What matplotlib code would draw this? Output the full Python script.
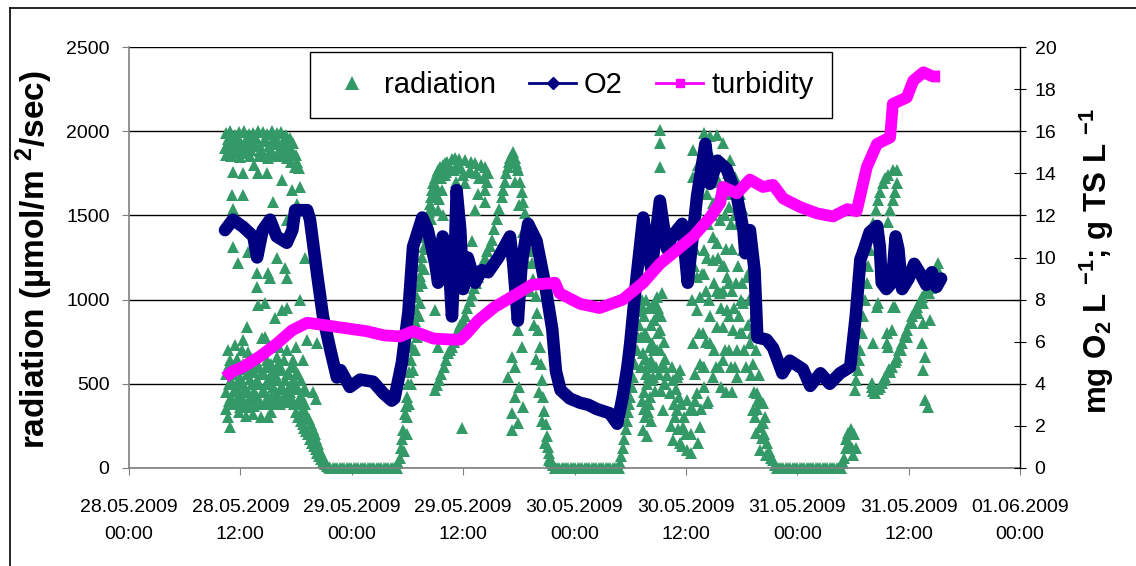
import matplotlib
matplotlib.use('Agg')
import matplotlib.pyplot as plt
import matplotlib.dates as mdates
from matplotlib.lines import Line2D
import numpy as np

plt.rcParams['font.family'] = ['Liberation Sans', 'DejaVu Sans']
plt.rcParams['mathtext.fontset'] = 'custom'
plt.rcParams['mathtext.rm'] = 'Liberation Sans'
plt.rcParams['mathtext.bf'] = 'Liberation Sans:bold'
plt.rcParams['mathtext.default'] = 'regular'

# ---------------- data (hours since 28.05.2009 00:00, value) ----------------
rad_day1 = [
    # top band
    (10.4,1990),(10.9,2000),(11.4,1980),(11.9,1995),(12.4,2000),(12.9,1985),(13.4,1990),(13.9,2000),
    (14.4,1995),(14.9,1985),(15.4,2000),(15.9,1990),(16.4,1995),(16.9,1980),(17.4,1960),
    (10.6,1920),(11.1,1940),(11.6,1910),(12.1,1930),(12.6,1900),(13.1,1935),(13.6,1920),(14.1,1910),
    (14.6,1940),(15.1,1915),(15.6,1925),(16.1,1935),(16.6,1910),(17.1,1900),(17.6,1880),(18.0,1860),
    (10.5,1860),(11.0,1850),(11.5,1870),(12.0,1845),(12.5,1870),(13.0,1850),(13.5,1800),(14.0,1855),
    (14.5,1860),(15.0,1840),(15.5,1860),(16.0,1850),(16.5,1855),(17.0,1840),(17.5,1820),(17.9,1790),(18.3,1780),
    (10.65,1955),(11.15,1890),(11.65,1960),(12.15,1885),(12.65,1950),(13.15,1890),(13.65,1960),
    (14.15,1885),(14.65,1955),(15.15,1880),(15.65,1960),(16.15,1890),(16.65,1950),(17.15,1870),
    (17.65,1930),(18.1,1820),(10.35,1900),
    # scattered values
    (11.2,1760),(12.3,1750),(13.9,1750),(14.9,1750),(16.5,1710),(17.6,1650),(18.4,1670),(11.1,1620),
    (12.3,1620),(15.5,1580),(11.2,1540),(18.1,1570),(17.0,1470),(11.2,1310),(11.7,1220),(12.8,1280),
    (13.8,1160),(13.8,1075),(15.0,1160),(15.2,1130),(15.9,1250),(16.8,1190),(17.0,1130),(19.0,1250),
    (13.9,970),(14.7,980),(16.5,940),(17.0,950),(18.4,1000),(15.7,890),(12.7,840),(12.3,760),
    (14.3,770),(11.4,730),(19.2,760),(20.3,740),(10.9,640),(12.2,700),(15.9,660),(17.0,700),
    (17.7,640),(18.7,640),(14.6,780),(12.8,690),(10.7,700),(11.6,650),(13.2,650),(14.9,640),
    (16.2,720),(18.0,720),
    # dense low cloud cover
    (10.5,560),(10.5,450),(10.5,350),(11.0,520),(11.0,420),(10.9,245),(11.5,580),(11.5,480),(11.5,380),
    (12.0,540),(12.0,440),(12.0,360),(12.5,590),(12.5,470),(12.5,380),(13.0,530),(13.0,420),
    (13.5,570),(13.5,460),(13.5,370),(14.0,600),(14.0,500),(14.0,400),(14.5,560),(14.5,460),(14.5,380),
    (15.0,520),(15.0,420),(15.0,305),(15.5,580),(15.5,480),(15.5,380),(16.0,620),(16.0,520),(16.0,420),
    (16.5,580),(16.5,480),(16.5,400),(17.0,560),(17.0,460),(17.0,390),(17.5,600),(17.5,500),(17.5,420),
    (18.0,560),(18.0,470),(18.5,520),(18.5,430),(19.0,470),(19.0,380),(19.8,450),(20.1,410),
    (10.8,500),(11.3,460),(11.8,520),(12.3,500),(12.8,450),(13.3,500),(13.8,520),(14.3,450),
    (14.8,500),(15.3,540),(15.8,450),(16.3,470),(16.8,520),(17.3,450),(17.8,520),(18.2,400),
    (18.8,460),(11.8,330),(12.6,310),(13.4,320),(14.2,300),(15.3,330),(10.7,300),
    (10.75,610),(11.25,560),(11.75,600),(12.25,620),(12.75,560),(13.25,580),(13.75,620),(14.25,560),
    (14.75,600),(15.25,620),(15.75,560),(16.25,600),(16.75,640),(17.25,560),(17.75,600),(18.25,560),
    (10.75,400),(11.25,380),(11.75,420),(12.25,400),(12.75,360),(13.25,400),(13.75,420),(14.25,380),
    (14.75,400),(15.25,420),(15.75,400),(16.25,380),(16.75,420),(17.25,400),(17.75,380),(18.25,470),
    # evening decline
    (18.0,330),(18.5,280),(18.9,240),(19.3,200),(19.7,150),(20.1,110),(20.5,70),(20.9,35),(21.3,10),
    (18.6,380),(19.0,330),(19.4,290),(19.8,230),(20.2,170),(20.6,100),(21.0,50),
    (18.25,300),(18.7,260),(19.1,220),(19.5,170),(19.9,130),(20.3,90),(20.7,55),(21.1,25),(21.5,5),
    (18.8,350),(19.2,310),(19.6,260),(20.0,200),(20.4,140),(20.8,75),
]
rad_night1 = [(21.7,0),(21.95,0),(22.2,0),(22.45,0),(22.7,0),(22.95,0),(23.2,0),(23.45,0),(23.7,0),
              (23.95,0),(24.2,0),(24.45,0),(24.7,0),(24.95,0),(25.2,0),(25.45,0),(25.7,0),(25.95,0),
              (26.2,0),(26.45,0),(26.7,0),(26.95,0),(27.2,0),(27.45,0),(27.7,0),(27.95,0),(28.2,0),
              (28.45,0),(28.7,0),(28.9,0)]
rad_day2 = [
    (29.0,30),(29.3,120),(29.5,225),(29.7,320),(29.9,420),(30.2,570),(30.5,720),(30.8,870),(31.0,1015),
    (31.3,1140),(31.6,1255),(31.9,1370),(32.1,1470),(32.4,1570),(32.6,1650),(33.0,1720),(33.3,1770),
    (33.8,1800),(34.3,1815),(34.8,1835),(35.1,1840),(35.6,1835),(36.2,1830),(36.8,1820),(37.3,1810),
    (37.9,1800),(38.4,1790),(38.7,1750),
    (29.6,100),(30.0,300),(30.4,500),(30.8,700),(31.2,900),(31.6,1100),(32.0,1300),(32.5,1480),
    (33.0,1620),(33.6,1720),(34.2,1760),(35.0,1770),(35.8,1780),(36.6,1760),(37.4,1750),(38.2,1730),
    (29.15,60),(29.45,170),(29.8,370),(30.1,500),(30.35,640),(30.65,800),(30.9,940),(31.15,1080),
    (31.45,1200),(31.75,1310),(32.0,1420),(32.3,1520),(32.5,1610),(32.8,1690),(33.15,1750),
    (33.55,1790),(34.0,1810),
    (29.9,200),(30.2,380),(30.6,580),(31.0,780),(31.4,980),(31.8,1180),(32.2,1360),(32.7,1540),
    (33.2,1660),
    (34.0,1740),(34.6,1790),(35.4,1800),(36.0,1740),(36.9,1760),(37.7,1720),(38.6,1700),(35.2,1700),
    (33.7,1650),(36.2,1690),(37.6,1630),(38.4,1650),(38.4,1580),(37.3,1530),(33.3,1530),(37.0,1350),
    (36.7,1250),(33.0,940),(33.3,720),(35.9,240),(33.4,1600),(33.8,1500),
    # second branch
    (33.0,465),(33.4,520),(33.9,600),(34.4,680),(34.8,720),(35.3,790),(35.7,850),(36.2,900),(36.7,990),
    (37.2,1070),(37.6,1135),(38.1,1210),(38.6,1290),(39.1,1355),(39.6,1480),(40.2,1610),(40.5,1700),
    (40.8,1790),(41.1,1840),(41.4,1875),
    (33.2,490),(33.65,560),(34.15,640),(34.6,700),(35.05,750),(35.5,820),(35.95,870),(36.45,950),
    (36.95,1030),(37.4,1100),(37.85,1170),(38.35,1250),(38.85,1320),(39.35,1420),(39.9,1540),
    (40.35,1650),(40.65,1750),(40.95,1815),(41.25,1860),
    (41.7,1810),(41.9,1770),(42.3,1640),(42.7,1515),(43.0,1370),(43.4,1215),(43.8,1020),(44.1,820),
    (44.4,620),(44.6,420),(44.9,260),(45.1,125),(45.4,60),(45.6,30),(45.9,0),
    (41.6,1700),(42.0,1560),(42.4,1400),(42.8,1230),(43.2,1050),(43.6,850),(43.9,650),(44.2,450),
    (44.5,280),(44.8,150),(45.2,50),
    (41.55,1840),(41.8,1790),(42.1,1700),(42.5,1580),(42.9,1440),(43.25,1290),(43.55,1120),
    (43.95,920),(44.25,720),(44.5,520),(44.75,340),(45.0,190),(45.3,90),(45.5,40),(45.7,15),
    (41.9,820),(42.3,720),(41.3,660),(40.8,540),(41.6,420),(41.3,325),(41.9,265),(41.3,225),(42.5,360),
    (41.6,600),(42.0,480),
]
rad_night2 = [(46.1,0),(46.35,0),(46.6,0),(46.85,0),(47.1,0),(47.35,0),(47.6,0),(47.85,0),(48.1,0),
              (48.35,0),(48.6,0),(48.85,0),(49.1,0),(49.35,0),(49.6,0),(49.85,0),(50.1,0),(50.35,0),
              (50.6,0),(50.85,0),(51.1,0),(51.35,0),(51.6,0),(51.85,0),(52.1,0),(52.35,0),(52.6,0),
              (52.8,0)]
rad_day3 = [
    (52.9,30),(53.2,120),(53.5,230),(53.8,330),(54.0,420),(54.3,540),(54.7,700),(55.0,850),(55.3,1000),
    (53.05,70),(53.35,170),(53.65,280),(53.9,380),(54.15,480),(54.5,620),(54.85,780),(55.15,930),
    (55.4,225),(55.4,680),(55.8,780),(56.9,1015),(56.9,900),(57.2,820),(56.5,540),(57.5,620),(56.1,420),
    (57.5,345),(55.6,800),(55.7,560),(55.5,450),(55.9,330),(56.2,640),(56.4,740),(56.6,880),(56.7,460),
    (56.0,540),(56.9,700),(57.1,560),(57.3,460),(55.6,300),(55.8,190),(56.3,960),
    (55.2,600),(55.5,900),(55.7,1000),(56.0,950),(56.2,850),(56.4,600),(56.6,700),(56.8,600),
    (57.0,800),(57.3,900),(57.6,750),(57.8,500),(55.3,400),(55.5,350),(55.9,620),(56.1,720),
    (56.3,520),(56.7,980),(57.4,1040),
    (55.2,780),(55.4,950),(55.6,650),(55.8,500),(56.0,380),(56.2,280),(56.4,950),(57.0,950),
    (57.2,700),(57.4,600),(57.6,500),(57.8,650),(58.0,550),
    (58.3,445),(59.0,540),(59.4,580),(59.0,345),(58.6,165),(60.1,105),(59.7,245),(60.4,345),(60.1,405),
    (58.5,600),(58.8,300),(59.3,420),(59.6,130),(58.4,250),(58.6,520),(58.9,470),(59.2,560),
    (59.5,380),(59.8,300),(60.0,200),(59.1,230),(58.7,380),(59.4,150),
    (57.2,2005),(57.2,1930),(57.2,1790),
    (60.8,740),(61.2,940),(61.5,1015),(61.2,1135),(61.9,1295),(61.2,1530),(60.8,1730),(60.8,1890),
    (61.9,1990),(62.6,1970),(63.3,1980),(64.0,1930),(64.8,1830),(65.3,1730),(65.8,1630),(66.2,1530),
    (66.6,1370),(66.2,1295),(66.6,1135),(66.2,980),(66.9,740),(65.5,700),(65.5,540),(67.2,620),
    (67.7,445),(67.2,345),(68.3,385),(68.0,245),(68.7,150),(69.4,50),(69.8,0),
    (63.3,1335),(62.9,1235),(63.7,1040),(62.6,900),(63.3,840),(64.4,940),(64.4,1135),(64.0,840),
    (62.6,740),(61.5,620),(61.2,445),(60.8,345),(61.5,245),(62.3,385),(62.9,540),(64.0,640),(65.1,820),
    (62.9,1370),(63.7,1470),(62.9,1575),(62.3,1630),(61.9,1790),(62.6,1870),(63.7,1830),(64.8,1630),
    (60.6,200),(60.5,90),(61.0,560),(61.8,800),(62.2,1050),(62.0,600),(63.0,700),(63.6,600),
    (63.9,1200),(64.2,1500),(64.6,1100),(65.0,1300),(64.7,700),(62.4,400),
    (61.0,1300),(61.4,1700),(61.6,1450),(62.0,1150),(62.4,1450),(62.7,1700),(63.0,1100),(63.4,1600),
    (63.5,1250),(64.0,1050),(64.3,1300),(64.6,1550),(65.0,1050),(65.3,1500),(65.6,1200),(65.9,1000),
    (66.0,800),(65.7,900),(65.3,600),(65.0,450),(64.3,450),(63.8,480),(61.6,350),(62.0,480),
    (61.3,150),
    (60.7,1000),(60.9,1200),(61.1,1600),(61.3,1800),(61.7,1150),(61.8,600),(62.1,1850),(62.3,1250),
    (62.5,1000),(62.8,1500),(63.1,1800),(63.2,600),(63.6,1700),(63.8,950),(64.1,1200),(64.5,1750),
    (64.7,900),(64.9,1450),(65.2,950),(65.4,1100),(65.6,1450),(65.8,800),(66.0,1100),(66.3,700),
    (61.4,800),(62.2,750),(63.4,1050),(64.2,700),(64.9,600),(61.0,400),
    (66.9,1175),(67.6,700),(67.8,405),(68.3,265),(67.6,210),(68.0,105),(66.7,850),(67.0,550),
    (67.3,900),(67.5,300),(67.9,550),(68.2,180),(68.5,300),(67.0,1000),(66.5,600),
    (66.8,1000),(67.1,800),(67.3,450),(67.7,350),(68.0,400),(68.4,200),(68.6,80),(69.0,100),
    (69.2,60),(69.6,20),
]
rad_night3 = [(70.0,0),(70.25,0),(70.5,0),(70.75,0),(71.0,0),(71.25,0),(71.5,0),(71.75,0),(72.0,0),
              (72.25,0),(72.5,0),(72.75,0),(73.0,0),(73.25,0),(73.5,0),(73.75,0),(74.0,0),(74.25,0),
              (74.5,0),(74.75,0),(75.0,0),(75.25,0),(75.5,0),(75.75,0),(76.0,0),(76.25,0),(76.5,0),
              (76.7,0)]
rad_day4 = [
    (76.9,30),(77.2,120),(77.5,205),(77.8,230),(78.1,200),(78.3,120),(78.0,80),
    (77.0,60),(77.3,170),(77.6,150),(77.9,120),
    (78.2,465),(78.5,580),(78.8,700),(79.1,900),(79.5,1100),(79.8,1295),(80.2,1455),(80.7,1590),
    (81.2,1690),(81.8,1740),(82.3,1770),(82.7,1770),(82.3,1590),(82.0,1530),(81.8,1460),(82.7,1690),
    (82.5,1640),
    (78.35,520),(78.65,640),(78.95,800),(79.3,1000),(79.65,1200),(80.0,1380),(80.45,1530),
    (80.95,1640),(81.5,1720),
    (80.4,445),(81.1,505),(81.5,540),(82.2,600),(82.7,660),(83.3,740),(83.8,820),(84.4,900),(84.9,955),
    (85.4,1015),(86.0,1060),(86.5,1100),(86.8,1135),(87.2,1175),(87.2,1215),
    (80.0,480),(80.7,470),(81.4,520),(82.0,570),(82.6,640),(83.2,700),(83.8,780),(84.4,860),(85.0,920),
    (85.6,980),(86.2,1040),(86.8,1090),
    (80.2,460),(80.9,480),(81.3,530),(81.9,590),(82.5,630),(83.0,700),(83.6,790),(84.1,860),
    (84.7,930),(85.2,990),(85.8,1040),(86.4,1070),(87.0,1150),
    (80.7,980),(82.5,955),(80.2,740),(81.7,740),(82.2,820),(81.8,720),(80.1,505),(85.5,860),(86.3,880),
    (85.4,740),(85.8,660),(85.5,580),(85.8,405),(86.1,360),(87.0,1100),(81.7,800),(82.3,955),(80.6,955),
]

o2_series = [
    (10.34,11.3),(11.2,11.8),(12.3,11.45),(13.4,11.0),(13.8,10.0),(14.4,11.3),(15.2,11.8),(15.9,11.0),
    (17.0,10.7),(17.6,11.3),(17.9,12.25),(19.2,12.25),(19.5,11.8),(20.3,9.1),(20.9,7.2),(21.7,5.6),
    (22.4,4.3),(22.8,4.65),(23.8,3.85),(24.9,4.2),(26.3,4.1),(27.4,3.55),(28.3,3.2),(28.6,3.3),
    (29.4,5.0),(30.1,7.4),(30.6,10.5),(31.6,11.9),(32.2,11.3),(33.0,9.7),(33.3,8.8),(33.8,11.0),
    (34.4,10.2),(34.8,7.2),(35.1,10.0),(35.3,13.2),(35.7,11.3),(36.0,8.5),(36.5,10.0),(37.3,8.8),
    (38.0,9.4),(38.7,9.3),(39.8,10.0),(41.05,11.0),(41.4,9.7),(41.9,7.0),(42.3,9.7),(43.0,11.6),
    (43.9,10.8),(44.8,8.8),(45.6,6.6),(46.0,4.6),(46.5,3.7),(47.5,3.3),(48.6,3.1),(49.5,3.0),
    (50.4,2.8),(51.8,2.6),(52.6,2.1),(53.2,3.4),(53.7,4.8),(54.0,5.9),(54.7,9.1),(55.4,11.9),
    (55.9,10.4),(56.3,9.4),(57.2,12.7),(57.97,10.4),(58.5,11.0),(59.6,11.6),(60.2,8.8),(61.2,12.9),
    (62.1,15.4),(62.6,13.5),(63.4,14.6),(64.4,14.2),(65.5,12.9),(66.2,11.3),(66.4,10.2),(66.9,11.3),
    (67.4,9.4),(67.7,6.2),(68.7,6.1),(69.4,5.7),(70.4,4.5),(71.2,5.1),(72.6,4.7),(73.4,3.9),
    (74.5,4.5),(75.5,4.0),(76.6,4.5),(77.7,4.8),(78.3,7.2),(78.8,9.9),(79.2,10.4),(79.8,11.2),
    (80.6,11.5),(80.9,10.5),(81.1,8.8),(81.6,8.5),(82.2,8.8),(82.6,11.0),(82.9,10.4),(83.3,8.5),
    (84.0,9.0),(84.6,9.7),(85.3,9.2),(85.9,8.7),(86.5,9.3),(87.0,8.6),(87.5,9.0),
]

turbidity_series = [
    (10.34,4.3),(11.2,4.6),(12.3,4.8),(14.1,5.3),(15.9,5.9),(17.6,6.55),(19.2,6.9),(20.9,6.8),
    (22.4,6.7),(24.0,6.6),(25.6,6.5),(27.5,6.3),(29.2,6.25),(30.6,6.5),(32.8,6.15),(34.8,6.1),
    (35.7,6.1),(36.4,6.4),(37.6,7.0),(39.4,7.65),(41.9,8.3),(43.4,8.7),(45.9,8.8),(46.4,8.3),
    (48.6,7.8),(50.7,7.6),(53.2,8.0),(55.4,8.8),(57.2,9.7),(59.0,10.35),(60.8,11.0),(62.6,11.9),
    (63.7,12.6),(64.0,13.35),(65.5,13.05),(66.9,13.7),(68.3,13.35),(69.4,13.45),(70.5,12.8),
    (72.3,12.4),(74.1,12.1),(75.85,11.95),(77.4,12.3),(78.4,12.2),(79.5,14.3),(80.6,15.4),
    (82.0,15.7),(82.3,17.3),(83.8,17.6),(84.5,18.4),(85.6,18.8),(86.6,18.6),(87.4,18.6),
]

legend_labels = ['radiation', 'O2', 'turbidity']
x_start = '2009-05-28'
n_days = 4

# ---------------- plotting ----------------
t0 = mdates.datestr2num(x_start)

def to_xy(pairs):
    a = np.array(pairs, dtype=float)
    return t0 + a[:, 0] / 24.0, a[:, 1]

rad_all = rad_day1 + rad_night1 + rad_day2 + rad_night2 + rad_day3 + rad_night3 + rad_day4
rx, rv = to_xy(rad_all)
ox, ov = to_xy(o2_series)
tx, tv = to_xy(turbidity_series)

GREEN = '#339966'
NAVY = '#000080'
MAGENTA = '#FF00FF'

fig = plt.figure(figsize=(11.36, 5.66), dpi=100)
ax = fig.add_axes([129/1136, 1-468/566, 891/1136, 421/566])
ax2 = ax.twinx()

ax.plot(rx, rv, ls='none', marker='^', ms=8.5, color=GREEN, mew=0, zorder=2, clip_on=False)
ax2.plot(ox, ov, color=NAVY, lw=9, solid_joinstyle='round', solid_capstyle='round', zorder=3)
ax2.plot(tx, tv, color=MAGENTA, lw=8.5, solid_joinstyle='round', solid_capstyle='butt', zorder=4)

ax.set_xlim(t0, t0 + n_days)
ax.set_ylim(0, 2500)
ax2.set_ylim(0, 20)
ax.set_yticks(np.arange(0, 2501, 500))
ax2.set_yticks(np.arange(0, 21, 2))

xt = t0 + np.arange(0, n_days + 0.01, 0.5)
ax.set_xticks(xt)
ax.set_xticklabels([mdates.num2date(v).strftime('%d.%m.%Y\n%H:%M') for v in xt], linespacing=1.8)

ax.yaxis.grid(True, color='black', lw=1.0)
ax.set_axisbelow(True)

for s in ['top', 'right']:
    ax.spines[s].set_visible(False)
for s in ['top', 'left', 'bottom']:
    ax2.spines[s].set_visible(False)
ax.spines['left'].set_color('#808080')
ax.spines['bottom'].set_color('#808080')
ax.spines['left'].set_linewidth(1.2)
ax.spines['bottom'].set_linewidth(1.2)
ax2.spines['right'].set_color('black')
ax2.spines['right'].set_linewidth(1.0)

ax.tick_params(axis='y', direction='out', length=5, color='#808080', labelsize=14, pad=9)
ax.tick_params(axis='x', direction='out', length=5, color='#808080', labelsize=14, pad=17)
ax2.tick_params(axis='y', direction='inout', length=9, color='black', labelsize=14, pad=6)

ax.set_ylabel(r'radiation (µmol/m $^{2}$/sec)', fontsize=24, fontweight='bold')
ax.yaxis.set_label_coords(-0.083, 0.495)
ax2.set_ylabel(r'mg O$_{2}$ L $^{-1}$; g TS L $^{-1}$', fontsize=22.5, fontweight='bold')
ax2.yaxis.set_label_coords(1.065, 0.49)

handles = [
    Line2D([], [], ls='none', marker='^', ms=10, color=GREEN, mew=0),
    Line2D([], [], color=NAVY, lw=2, marker='D', ms=6),
    Line2D([], [], color=MAGENTA, lw=2, marker='s', ms=6),
]
leg = ax2.legend(handles, legend_labels, loc='upper left', bbox_to_anchor=(0.203, 0.988), ncol=3,
                 fontsize=21, frameon=True, fancybox=False, edgecolor='black', framealpha=1,
                 borderaxespad=0, handlelength=1.6, handletextpad=0.28, columnspacing=1.15,
                 borderpad=0.65)
leg.get_frame().set_linewidth(1.0)

# outer chart border
fig.add_artist(Line2D([10/1136, 1], [1-8/566, 1-8/566], transform=fig.transFigure, color='black', lw=1.2))
fig.add_artist(Line2D([10/1136, 10/1136], [0, 1-8/566], transform=fig.transFigure, color='black', lw=1.2))

fig.savefig('out.png', dpi=100)
